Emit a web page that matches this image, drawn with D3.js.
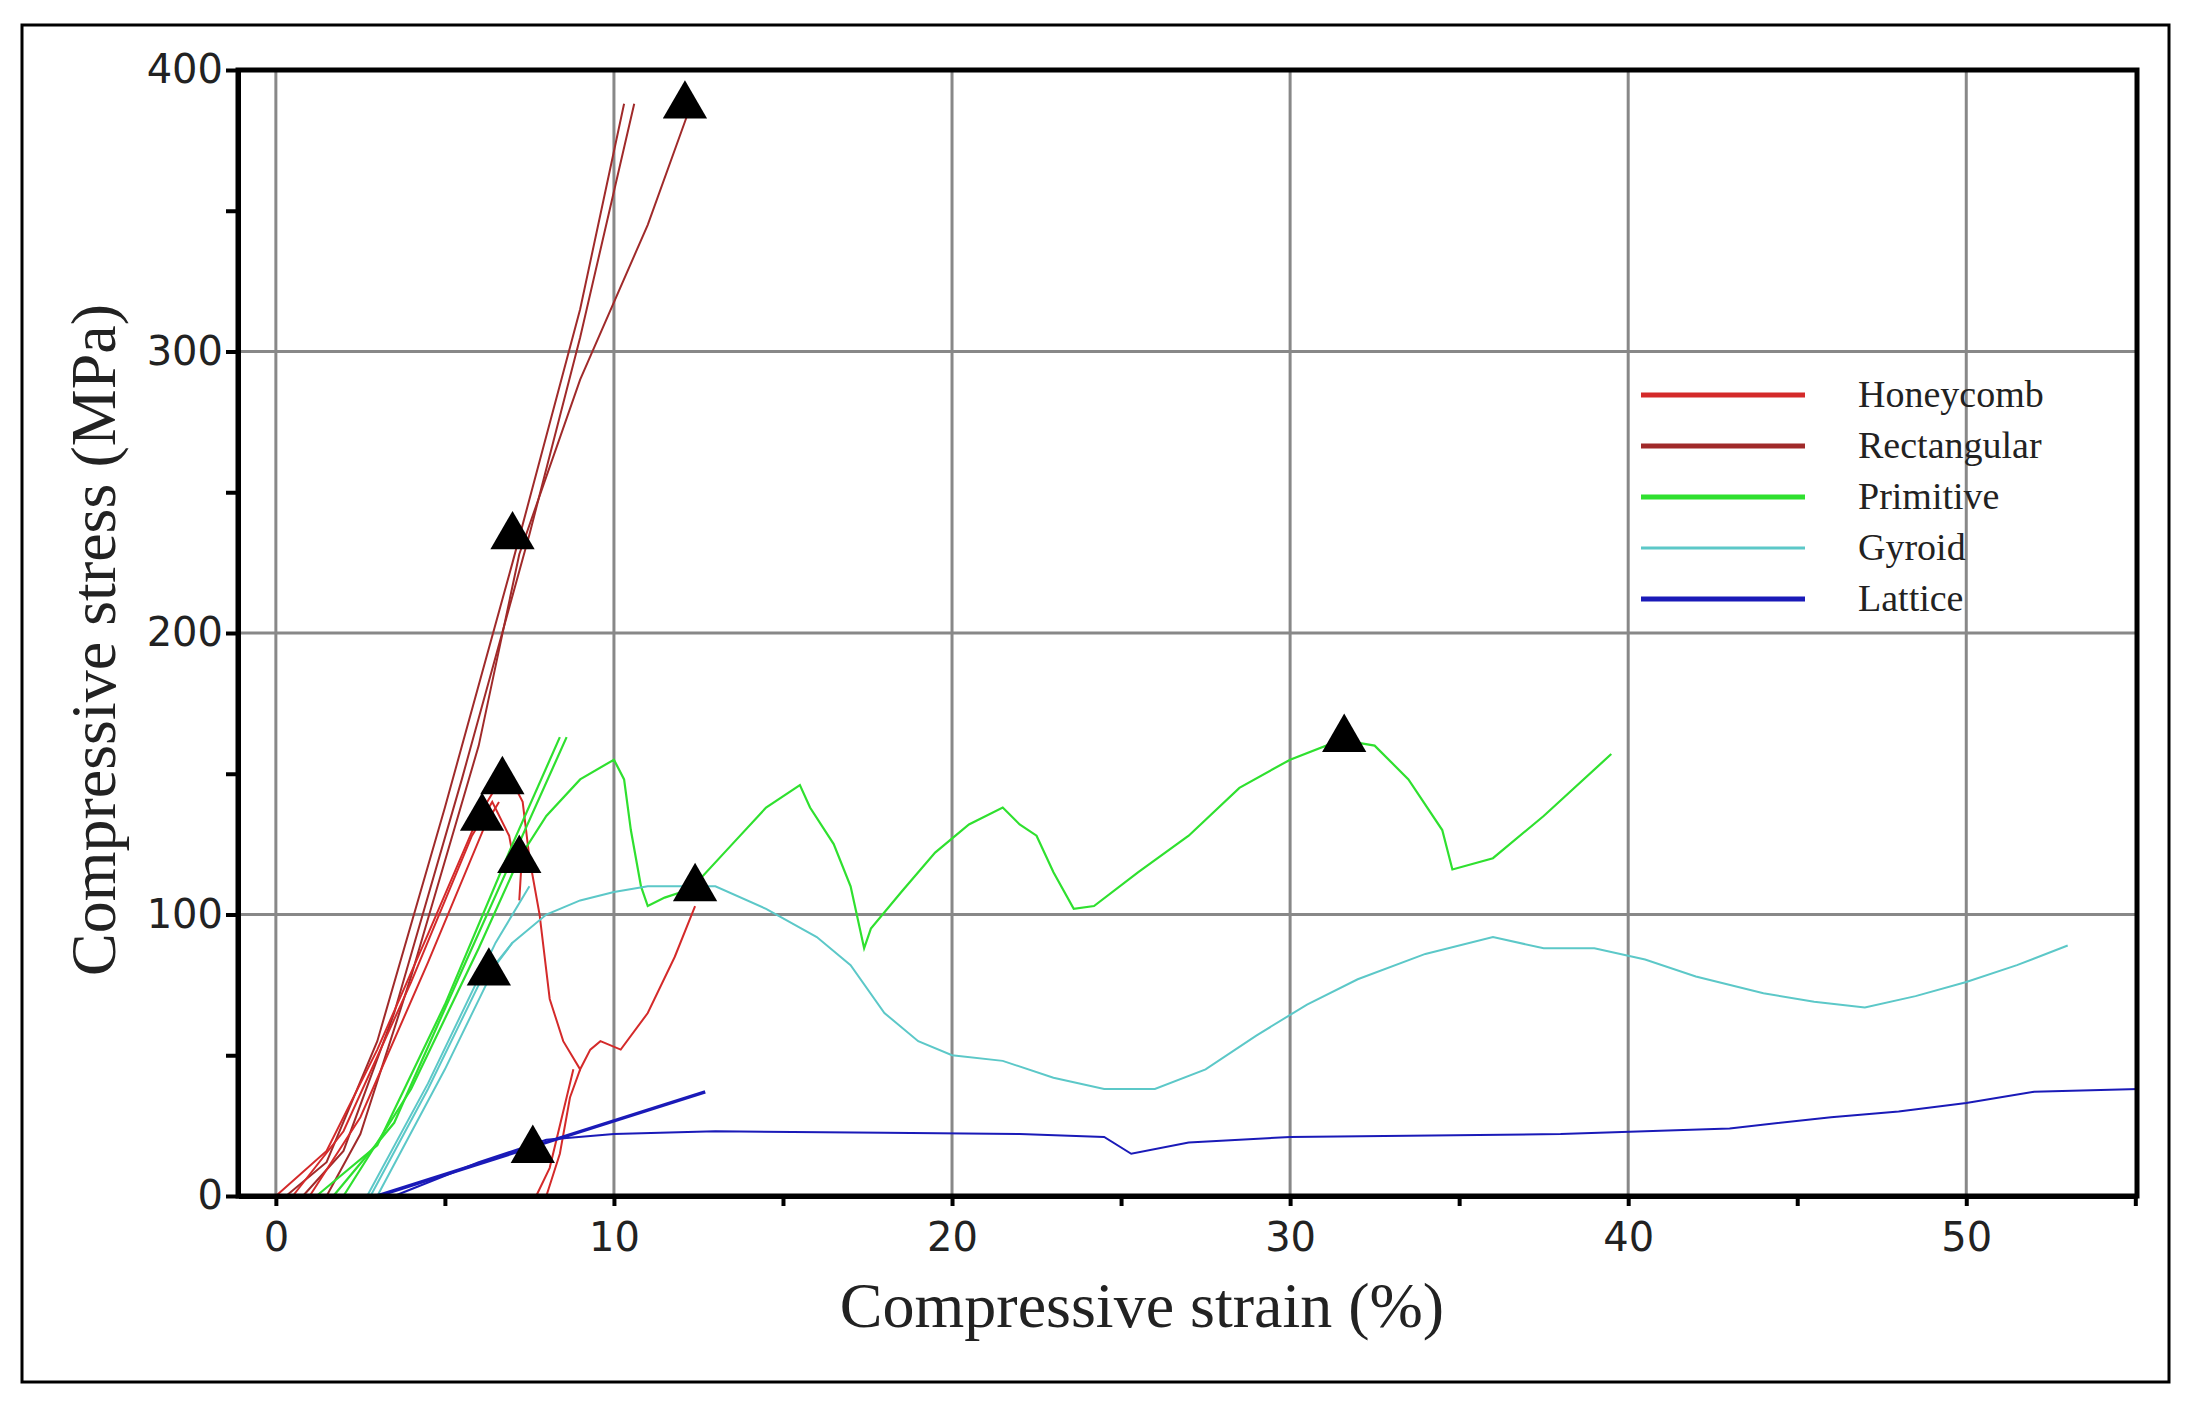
<!DOCTYPE html>
<html><head><meta charset="utf-8">
<script src="https://cdn.jsdelivr.net/npm/d3@7"></script>
<style>body{margin:0;background:#fff}</style>
</head><body>
<svg id="chart" width="2194" height="1417"></svg>
<script>
// strain (%), stress (MPa) pairs
var rectangular = [
  [[0.3,0],[1.5,12],[3,55],[5,138],[7,225],[9,315],[10.3,388]],
  [[0.8,0],[2,16],[3.5,65],[5.5,148],[7.5,235],[9,305],[10.6,388]],
  [[1.5,0],[2.5,22],[4,78],[6,160],[7.2,228],[9,290],[11,345],[12.2,385]]
];
var honeycomb = [
  [[0,0],[1.5,16],[3,52],[4.5,93],[6,135],[6.6,147],[7.0,147],[7.3,140],[7.5,120],[7.8,100],[8.1,70],[8.5,55],[9.0,45],[9.3,52],[9.6,55],[10.2,52],[11,65],[11.8,85],[12.4,103]],
  [[0.5,0],[2,23],[4,76],[5.8,128],[6.4,140],[6.9,128],[7.1,115],[7.3,125],[7.2,105]],
  [[1.0,0],[2.5,28],[4.5,83],[6.2,132],[6.6,140]],
  [[7.7,0],[8.1,10],[8.5,30],[8.8,45]],
  [[8.0,0],[8.4,15],[8.7,35],[9.0,45]]
];
var primitive = [
  [[1.2,0],[3,18],[5,68],[7,125],[8.4,163]],
  [[1.7,0],[3.5,26],[5.5,80],[8.6,163]],
  [[2,0],[4,38],[6,88],[7.2,120],[8,135],[9,148],[10,155],[10.3,148],[10.5,130],[10.8,110],[11,103],[11.5,106],[12,108],[12.5,112],[13.5,125],[14.5,138],[15.5,146],[15.8,138],[16.5,125],[17,110],[17.4,88],[17.6,95],[18.5,108],[19.5,122],[20.5,132],[21.5,138],[22,132],[22.5,128],[23,115],[23.6,102],[24.2,103],[25.5,115],[27,128],[28.5,145],[30,155],[31.5,162],[32.5,160],[33.5,148],[34.5,130],[34.8,116],[36,120],[37.5,135],[39.5,157]]
];
var gyroid = [
  [[2.7,0],[4.5,40],[6.5,90],[7.5,110]],
  [[3,0],[5,45],[6.5,82],[7,90]],
  [[2.8,0],[4.5,38],[6,75],[7,90],[8,100],[9,105],[10,108],[11,110],[13,110],[14.5,102],[16,92],[17,82],[18,65],[19,55],[20,50],[21.5,48],[23,42],[24.5,38],[26,38],[27.5,45],[29,57],[30.5,68],[32,77],[34,86],[36,92],[37.5,88],[39,88],[40.5,84],[42,78],[44,72],[45.5,69],[47,67],[48.5,71],[50,76],[51.5,82],[53,89]]
];
var lattice = [
  [[3,0],[12.7,37]],
  [[3.5,0],[6,12],[8,20],[10,22],[13,23],[18,22.5],[22,22],[24.5,21],[25.3,15],[27,19],[30,21],[38,22],[43,24],[46,28],[48,30],[50,33],[52,37],[55.1,38]]
];
var markers = [[12.1,388],[7,235],[6.7,148],[6.1,135],[7.2,120],[6.3,80],[12.4,110],[7.6,17],[31.6,163]];
var legendNames = ["Honeycomb","Rectangular","Primitive","Gyroid","Lattice"];
var legendColors = ["#d42a2a","#a02a2a","#2fe02f","#5cc8c8","#1a1ab8"];

var svg = d3.select("#chart");
var L = 238, R = 2137, T = 70, B = 1196;
var x = d3.scaleLinear().domain([-1.12, 55.05]).range([L, R]),
    y = d3.scaleLinear().domain([0, 400]).range([B, T]);

// outer frame
svg.append("rect").attr("x", 22).attr("y", 25).attr("width", 2147).attr("height", 1357)
  .attr("fill", "none").attr("stroke", "#000").attr("stroke-width", 3);

// grid
var g = svg.append("g");
[0,10,20,30,40,50].forEach(function(v){
  g.append("line").attr("x1", x(v)).attr("x2", x(v)).attr("y1", T).attr("y2", B)
    .attr("stroke", "#888").attr("stroke-width", 3);
});
[100,200,300].forEach(function(v){
  g.append("line").attr("x1", L).attr("x2", R).attr("y1", y(v)).attr("y2", y(v))
    .attr("stroke", "#888").attr("stroke-width", 3);
});

// curves
var line = d3.line().x(function(d){ return x(d[0]); }).y(function(d){ return y(d[1]); });
function drawSet(data, color, w){
  return svg.append("g").selectAll("path").data(data).enter().append("path")
    .attr("d", line).attr("fill", "none").attr("stroke", color).attr("stroke-width", w);
}
drawSet(rectangular, legendColors[1], 2);
drawSet(honeycomb, legendColors[0], 2);
drawSet(primitive, legendColors[2], 2.2);
drawSet(gyroid, legendColors[3], 2);
drawSet(lattice, legendColors[4], 2).filter(function(d, i){ return i === 0; }).attr("stroke-width", 3.5);

// markers
svg.append("g").selectAll("path").data(markers).enter().append("path")
  .attr("d", d3.symbol().type(d3.symbolTriangle).size(850))
  .attr("transform", function(d){ return "translate(" + x(d[0]) + "," + (y(d[1]) + 2) + ")"; })
  .attr("fill", "#000");

// axes and box
var fontTick = "'DejaVu Sans', Verdana, sans-serif";
var xAxis = svg.append("g").attr("transform", "translate(0," + B + ")")
  .call(d3.axisBottom(x).tickValues([0,5,10,15,20,25,30,35,40,45,50,55]).tickSize(10)
    .tickFormat(function(d){ return d % 10 === 0 ? d : ""; }).tickSizeOuter(0));
xAxis.selectAll("text").attr("font-size", 40).attr("font-family", fontTick).attr("dy", "1.05em").attr("fill", "#222");
var yAxis = svg.append("g").attr("transform", "translate(" + L + ",0)")
  .call(d3.axisLeft(y).tickValues([0,50,100,150,200,250,300,350,400]).tickSize(12)
    .tickFormat(function(d){ return d % 100 === 0 ? d : ""; }).tickSizeOuter(0));
yAxis.selectAll("text").attr("font-size", 40).attr("font-family", fontTick).attr("fill", "#222");
svg.selectAll(".domain").attr("stroke-width", 5);
svg.selectAll(".tick line").attr("stroke-width", 4);
svg.append("rect").attr("x", L).attr("y", T).attr("width", R - L).attr("height", B - T)
  .attr("fill", "none").attr("stroke", "#000").attr("stroke-width", 5);

// titles
var serif = "'Liberation Serif', 'DejaVu Serif', serif";
svg.append("text").attr("x", 1142).attr("y", 1327).attr("text-anchor", "middle")
  .attr("font-family", serif).attr("font-size", 64).attr("fill", "#222").text("Compressive strain (%)");
svg.append("text").attr("transform", "translate(115," + 640 + ") rotate(-90)")
  .attr("text-anchor", "middle").attr("font-family", serif).attr("font-size", 64).attr("fill", "#222")
  .text("Compressive stress (MPa)");

// legend
var leg = svg.append("g");
legendNames.forEach(function(n, i){
  var yy = 395 + i * 51;
  leg.append("line").attr("x1", 1641).attr("x2", 1805).attr("y1", yy).attr("y2", yy)
    .attr("stroke", legendColors[i]).attr("stroke-width", i === 3 ? 3 : 5);
  leg.append("text").attr("x", 1858).attr("y", yy + 12).attr("font-family", serif)
    .attr("font-size", 38).attr("fill", "#222").text(n);
});
</script>
</body></html>
